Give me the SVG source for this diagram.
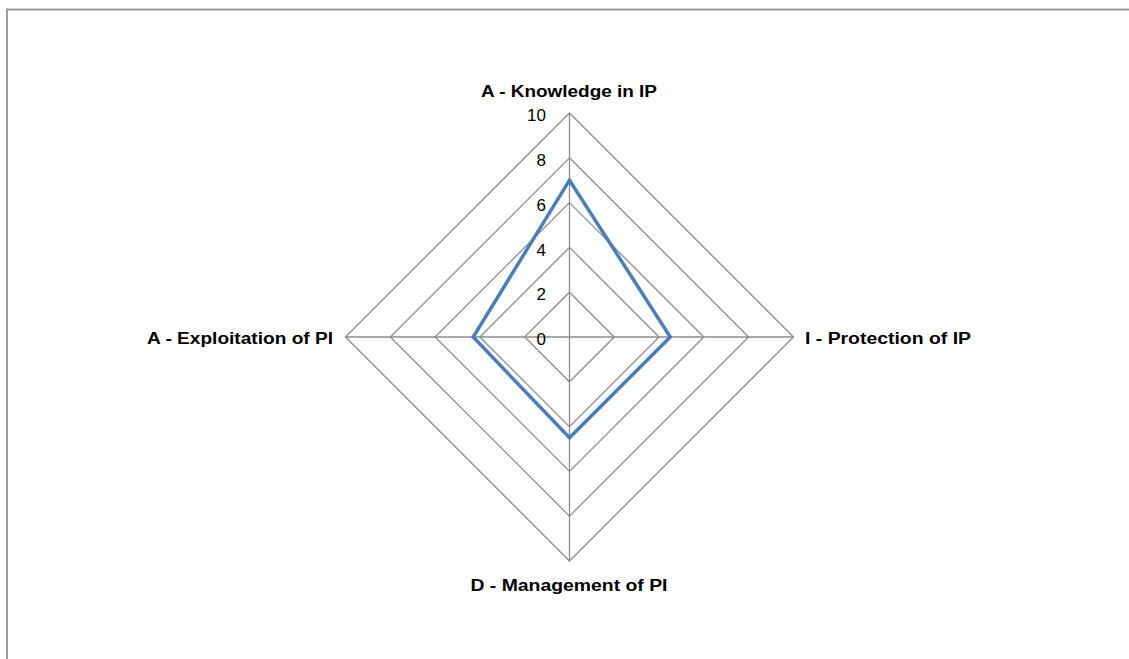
<svg xmlns="http://www.w3.org/2000/svg" width="1129" height="659" viewBox="0 0 1129 659">
<style>
.grid{fill:none;stroke:#8c8c8c;stroke-width:1.3}
.tick{font-family:"Liberation Sans",Arial,sans-serif;font-size:17px;fill:#000;text-anchor:end}
.lab{font-family:"Liberation Sans",Arial,sans-serif;font-size:16px;font-weight:bold;fill:#000}
</style>
<rect x="0" y="0" width="1129" height="659" fill="#fff"/>
<path d="M7 659 V9.5 H1129" fill="none" stroke="#9a9a9a" stroke-width="2"/>
<g id="grid">
<polygon class="grid" points="569.5,292.2 614.3,337 569.5,381.8 524.7,337"/>
<polygon class="grid" points="569.5,247.4 659.1,337 569.5,426.6 479.9,337"/>
<polygon class="grid" points="569.5,202.6 703.9,337 569.5,471.4 435.1,337"/>
<polygon class="grid" points="569.5,157.8 748.7,337 569.5,516.2 390.3,337"/>
<polygon class="grid" points="569.5,113 793.5,337 569.5,561 345.5,337"/>
<line class="grid" x1="569.5" y1="113" x2="569.5" y2="561"/>
<line class="grid" x1="345.5" y1="337" x2="793.5" y2="337"/>
</g>
<g id="ticks">
<text class="tick" x="546" y="121">10</text>
<text class="tick" x="546" y="166">8</text>
<text class="tick" x="546" y="211">6</text>
<text class="tick" x="546" y="256">4</text>
<text class="tick" x="546" y="300">2</text>
<text class="tick" x="546" y="345">0</text>
</g>
<g id="connectors">
<polygon points="569.5,180.2 670.3,337 569.5,437.8 473.2,337" fill="none" stroke="#4a7ebb" stroke-width="3.5" stroke-linejoin="miter"/>
</g>
<g id="node-knowledge"><text class="lab" x="569" y="97" text-anchor="middle" textLength="176" lengthAdjust="spacingAndGlyphs">A - Knowledge  in IP</text></g>
<g id="node-protection"><text class="lab" x="805" y="344" textLength="166" lengthAdjust="spacingAndGlyphs">I - Protection of IP</text></g>
<g id="node-management"><text class="lab" x="569" y="591" text-anchor="middle" textLength="197" lengthAdjust="spacingAndGlyphs">D - Management  of PI</text></g>
<g id="node-exploitation"><text class="lab" x="333" y="344" text-anchor="end" textLength="186" lengthAdjust="spacingAndGlyphs">A - Exploitation  of PI</text></g>
</svg>
